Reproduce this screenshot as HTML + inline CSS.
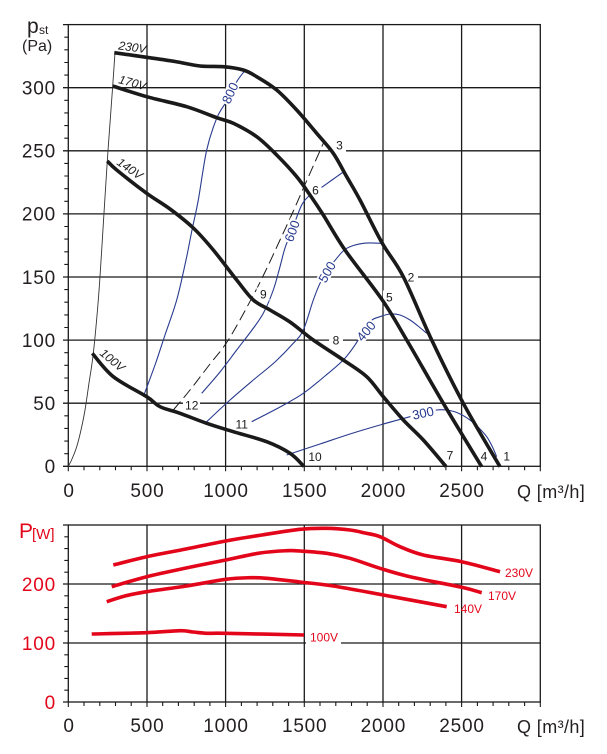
<!DOCTYPE html>
<html>
<head>
<meta charset="utf-8">
<style>
  html,body{margin:0;padding:0;background:#fff;}
  svg{display:block;}
  text{font-family:"Liberation Sans",Arial,sans-serif;}
</style>
</head>
<body>
<svg id="chart" width="607" height="754" viewBox="0 0 607 754" xmlns="http://www.w3.org/2000/svg">
  <rect x="0" y="0" width="607" height="754" fill="#fff"/>

  <!-- ================= UPPER CHART ================= -->
  <g stroke="#1a1a1a" stroke-width="1.3" fill="none">
    <rect x="68.3" y="24.6" width="472" height="441.7"/>
    <path d="M147 24.6V466.3M225.6 24.6V466.3M304.3 24.6V466.3M383 24.6V466.3M461.6 24.6V466.3"/>
    <path d="M63 403.2H540.3M63 340.1H540.3M63 277H540.3M63 213.9H540.3M63 150.8H540.3M63 87.7H540.3M63 24.6H68.3M63 466.3H68.3"/>
  </g>
  <path stroke="#1a1a1a" stroke-width="1.1" fill="none"
    d="M64.3 453.7h4M64.3 441.1h4M64.3 428.4h4M64.3 415.8h4
       M64.3 390.6h4M64.3 378h4M64.3 365.3h4M64.3 352.7h4
       M64.3 327.5h4M64.3 314.9h4M64.3 302.2h4M64.3 289.6h4
       M64.3 264.4h4M64.3 251.8h4M64.3 239.1h4M64.3 226.5h4
       M64.3 201.3h4M64.3 188.7h4M64.3 176h4M64.3 163.4h4
       M64.3 138.2h4M64.3 125.6h4M64.3 112.9h4M64.3 100.3h4
       M64.3 75.1h4M64.3 62.5h4M64.3 49.8h4M64.3 37.2h4"/>
  <path stroke="#1a1a1a" stroke-width="1.1" fill="none"
    d="M68.3 466.3v5M84 466.3v4M99.8 466.3v4M115.5 466.3v4M131.2 466.3v4M147 466.3v5
       M162.7 466.3v4M178.4 466.3v4M194.2 466.3v4M209.9 466.3v4M225.6 466.3v5
       M241.4 466.3v4M257.1 466.3v4M272.8 466.3v4M288.6 466.3v4M304.3 466.3v5
       M320 466.3v4M335.8 466.3v4M351.5 466.3v4M367.2 466.3v4M383 466.3v5
       M398.7 466.3v4M414.4 466.3v4M430.2 466.3v4M445.9 466.3v4M461.6 466.3v5
       M477.4 466.3v4M493.1 466.3v4M508.8 466.3v4M524.6 466.3v4M540.3 466.3v5"/>

  <!-- thin system curve -->
  <polyline class="s" fill="none" stroke="#333" stroke-width="0.9"
    points="68.3,466.3 72,459 76.7,446.7 81,430 85,410 89,383 93.3,353.3 98.3,300 101.7,250 107.3,161 112.7,86 115,52.7"/>

  <!-- dashed line -->
  <polyline class="s" fill="none" stroke="#1a1a1a" stroke-width="1" stroke-dasharray="11,5"
    points="173.3,410 190,390 210,364 228.3,340 251.7,298.3 266,270 280,240 292,214 307,180 323.3,143.3"/>

  <!-- blue curves -->
  <g fill="none" stroke="#283a8e" stroke-width="1.1" stroke-linejoin="round">
    <polyline class="s" points="143.3,396.7 155,365 165,335 176.7,300 186,260 192,230 198.3,200 206.7,150 216.7,118.3 226,102 236.7,81.7 245,70.5"/>
    <polyline class="s" points="201.7,393.3 220,372 236.7,350 252,330 263.3,313.3 273.3,290 280,266.7 285,248 292,230 301.7,205 310,195 316,190 321.7,187.3 332,180 343.3,172"/>
    <polyline class="s" points="206.7,421.7 230,400 253.3,380 275,362 293.3,343.3 303.3,330 313.3,300 320,283.3 326.7,271.7 336.7,258.3 346.7,248.3 363.3,243.3 382.3,243.3"/>
    <polyline class="s" points="251.7,421.7 280,407 303.3,393.3 325,376 343.3,360 355,345 365,328.3 372,320 380,316.7 390,314 400,315 410,320 418,326 426.7,333.3"/>
    <polyline class="s" points="286.7,455 320,444 350,434 380,425 410,416.7 423.3,413.3 436.7,410 446.7,410 458,413 470,420 479,428 486.7,436.7 492,446 496.7,456.7"/>
  </g>

  <!-- label backgrounds -->
  <g fill="#fff">
    <rect x="-12" y="-6" width="24" height="12" transform="translate(230,93) rotate(-65)"/>
    <rect x="-12" y="-6" width="24" height="12" transform="translate(292,231) rotate(-70)"/>
    <rect x="-12" y="-6" width="24" height="12" transform="translate(327,272) rotate(-60)"/>
    <rect x="-12" y="-6" width="24" height="12" transform="translate(366,331) rotate(-50)"/>
    <rect x="-13" y="-6" width="26" height="12" transform="translate(423,413) rotate(-12)"/>
    <rect x="404" y="270" width="14" height="13"/>
    <rect x="333" y="138" width="13" height="14"/>
    <rect x="329" y="334" width="14" height="13"/>
    <rect x="183" y="398" width="17" height="13"/>
    <rect x="309.5" y="183.5" width="12" height="13"/>
    <rect x="256.5" y="287.5" width="13" height="13"/>
    <rect x="383" y="290.5" width="13" height="13"/>
    <rect x="234" y="417.5" width="16" height="13"/>
    <rect x="307" y="450" width="16" height="12"/>
  </g>

  <!-- black main curves -->
  <g fill="none" stroke="#1a1a1a" stroke-width="3.6" stroke-linejoin="round">
    <polyline class="s" points="114.3,52.7 146.7,57.3 175,61.5 200,66 223.3,66.7 243.3,70 256.7,76.7 276.7,90 296.7,110 316.7,133.3 333.3,153.3 346.7,176.7 360,200 382.3,243.3 403.3,276.7 431.7,340 463.3,403.3 500,466.7"/>
    <polyline class="s" points="112.7,86 146.7,96.7 186.7,106.7 216.7,117.7 233.3,123.3 256.7,136.7 276.7,155 296.7,176.7 310,195 323.3,215 345,250 382.3,300 406.7,340 443.3,403.3 481.7,466.7"/>
    <polyline class="s" points="107.3,161 116.7,170 146.7,193.3 170,209 193.3,228 213.3,250 236.7,280 253.3,300 270,310 290,322 313.3,340 343.3,360 366.7,376.7 383.3,396.7 403.3,420 423.3,440 446,466.5"/>
    <polyline class="s" points="92.3,353.3 113.3,376.7 146.7,396.7 160,406.7 180,413.3 206.7,423.3 233.3,431.7 266.7,441.7 290,453.3 304,466.5"/>
  </g>

  <!-- blue labels -->
  <g fill="#283a8e" font-size="13" text-anchor="middle">
    <text transform="translate(230,93) rotate(-65)" y="4.6">800</text>
    <text transform="translate(292,231) rotate(-70)" y="4.6">600</text>
    <text transform="translate(327,272) rotate(-60)" y="4.6">500</text>
    <text transform="translate(366,331) rotate(-50)" y="4.6">400</text>
    <text transform="translate(423,413) rotate(-12)" y="4.6">300</text>
  </g>

  <!-- black point labels -->
  <g fill="#1a1a1a" font-size="12" text-anchor="middle">
    <text x="506.7" y="460.3">1</text>
    <text x="484" y="460.3">4</text>
    <text x="450" y="459.3">7</text>
    <text x="315" y="461">10</text>
    <text x="241.7" y="428.3">11</text>
    <text x="191.7" y="409.3">12</text>
    <text x="263.3" y="298.3">9</text>
    <text x="336" y="344.3">8</text>
    <text x="389.3" y="301.3">5</text>
    <text x="315.5" y="194.3">6</text>
    <text x="339.5" y="149.3">3</text>
    <text x="411" y="281.3">2</text>
  </g>

  <!-- voltage labels upper -->
  <g fill="#1a1a1a" font-size="12" font-style="italic" text-anchor="middle">
    <text transform="translate(132.5,47) rotate(8)" y="4.3">230V</text>
    <text transform="translate(132.5,82.5) rotate(15)" y="4.3">170V</text>
    <text transform="translate(130,168.5) rotate(35)" y="4.3">140V</text>
    <text transform="translate(112.5,360) rotate(40)" y="4.3">100V</text>
  </g>

  <!-- upper axis labels -->
  <g fill="#231f20" font-size="19" letter-spacing="0.8" text-anchor="end">
    <text x="56" y="473">0</text>
    <text x="56" y="410">50</text>
    <text x="56" y="347">100</text>
    <text x="56" y="284">150</text>
    <text x="56" y="220.6">200</text>
    <text x="56" y="157.5">250</text>
    <text x="56" y="94.4">300</text>
  </g>
  <g fill="#231f20" font-size="19" letter-spacing="0.8" text-anchor="middle">
    <text x="69" y="497">0</text>
    <text x="147.4" y="497">500</text>
    <text x="226" y="497">1000</text>
    <text x="304.7" y="497">1500</text>
    <text x="383.4" y="497">2000</text>
    <text x="462" y="497">2500</text>
  </g>
  <text x="517" y="498" fill="#231f20" font-size="18" letter-spacing="0.4">Q [m³/h]</text>

  <text x="27" y="33" fill="#231f20" font-size="21">p</text>
  <text x="39" y="34" fill="#231f20" font-size="12">st</text>
  <text x="22" y="51" fill="#231f20" font-size="16">(Pa)</text>

  <!-- ================= LOWER CHART ================= -->
  <g stroke="#1a1a1a" stroke-width="1.3" fill="none">
    <rect x="68.3" y="525" width="472" height="177"/>
    <path d="M147 525V702M225.6 525V702M304.3 525V702M383 525V702M461.6 525V702"/>
    <path d="M63 643H540.3M63 584H540.3M63 525H68.3M63 702H68.3"/>
  </g>
  <path stroke="#1a1a1a" stroke-width="1.1" fill="none"
    d="M64.3 690.2h4M64.3 678.4h4M64.3 666.6h4M64.3 654.8h4
       M64.3 631.2h4M64.3 619.4h4M64.3 607.6h4M64.3 595.8h4
       M64.3 572.2h4M64.3 560.4h4M64.3 548.6h4M64.3 536.8h4"/>
  <path stroke="#1a1a1a" stroke-width="1.1" fill="none"
    d="M68.3 702v5M84 702v4M99.8 702v4M115.5 702v4M131.2 702v4M147 702v5
       M162.7 702v4M178.4 702v4M194.2 702v4M209.9 702v4M225.6 702v5
       M241.4 702v4M257.1 702v4M272.8 702v4M288.6 702v4M304.3 702v5
       M320 702v4M335.8 702v4M351.5 702v4M367.2 702v4M383 702v5
       M398.7 702v4M414.4 702v4M430.2 702v4M445.9 702v4M461.6 702v5
       M477.4 702v4M493.1 702v4M508.8 702v4M524.6 702v4M540.3 702v5"/>

  <rect x="306" y="630" width="35" height="15" fill="#fff"/>

  <!-- red curves -->
  <g fill="none" stroke="#e3061b" stroke-width="3.6" stroke-linejoin="round">
    <polyline class="s" points="113.3,565 146.7,556.7 186,549 225.7,541 262,535 300,529.3 326.7,528.3 350,530 365,533 380,536.7 400,546.7 423.3,555 461.7,561.7 500,571.7"/>
    <polyline class="s" points="111.7,586.7 146.7,576.7 186,568 225.7,560 260,553 286.7,550.7 300,551 326.7,553.3 350,558.3 380,568.3 410,576.7 461.7,587.3 481.7,592.7"/>
    <polyline class="s" points="106.7,601.7 125,596 146.7,591.7 186.7,586 225.7,579.3 250,577.7 266.7,578.3 300,582 333.3,586 383.3,595 446.7,606.7"/>
    <polyline class="s" points="91.7,634 146.7,632.7 180,630.7 193,632 206.7,633.3 225.7,633.3 304,635"/>
  </g>

  <g fill="#e3061b" font-size="12">
    <text x="505" y="577">230V</text>
    <text x="488" y="600">170V</text>
    <text x="454" y="613">140V</text>
    <text x="310" y="641.5">100V</text>
  </g>

  <g fill="#e3061b" font-size="19" letter-spacing="0.8" text-anchor="end">
    <text x="56" y="709">0</text>
    <text x="56" y="650">100</text>
    <text x="56" y="591">200</text>
  </g>
  <text x="19" y="538" fill="#e3061b" font-size="21">P</text>
  <text x="32" y="539" fill="#e3061b" font-size="15">[W]</text>

  <g fill="#231f20" font-size="19" letter-spacing="0.8" text-anchor="middle">
    <text x="69" y="732">0</text>
    <text x="147.4" y="732">500</text>
    <text x="226" y="732">1000</text>
    <text x="304.7" y="732">1500</text>
    <text x="383.4" y="732">2000</text>
    <text x="462" y="732">2500</text>
  </g>
  <text x="517" y="733" fill="#231f20" font-size="18" letter-spacing="0.4">Q [m³/h]</text>
</svg>
<script>
(function(){
  var NS="http://www.w3.org/2000/svg";
  var pls=document.querySelectorAll("polyline.s");
  for(var i=0;i<pls.length;i++){
    var pl=pls[i];
    var raw=pl.getAttribute("points").trim().split(/\s+/);
    var p=[];
    for(var j=0;j<raw.length;j++){var xy=raw[j].split(",");p.push([parseFloat(xy[0]),parseFloat(xy[1])]);}
    if(p.length<3)continue;
    var d="M"+p[0][0]+" "+p[0][1];
    for(var k=0;k<p.length-1;k++){
      var p0=p[k>0?k-1:0],p1=p[k],p2=p[k+1],p3=p[k+2<p.length?k+2:p.length-1];
      var c1x=p1[0]+(p2[0]-p0[0])/6,c1y=p1[1]+(p2[1]-p0[1])/6;
      var c2x=p2[0]-(p3[0]-p1[0])/6,c2y=p2[1]-(p3[1]-p1[1])/6;
      d+="C"+c1x.toFixed(2)+" "+c1y.toFixed(2)+" "+c2x.toFixed(2)+" "+c2y.toFixed(2)+" "+p2[0]+" "+p2[1];
    }
    var path=document.createElementNS(NS,"path");
    for(var a=0;a<pl.attributes.length;a++){
      var at=pl.attributes[a];
      if(at.name!=="points"&&at.name!=="class")path.setAttribute(at.name,at.value);
    }
    path.setAttribute("d",d);
    pl.parentNode.replaceChild(path,pl);
  }
})();
</script>
</body>
</html>
